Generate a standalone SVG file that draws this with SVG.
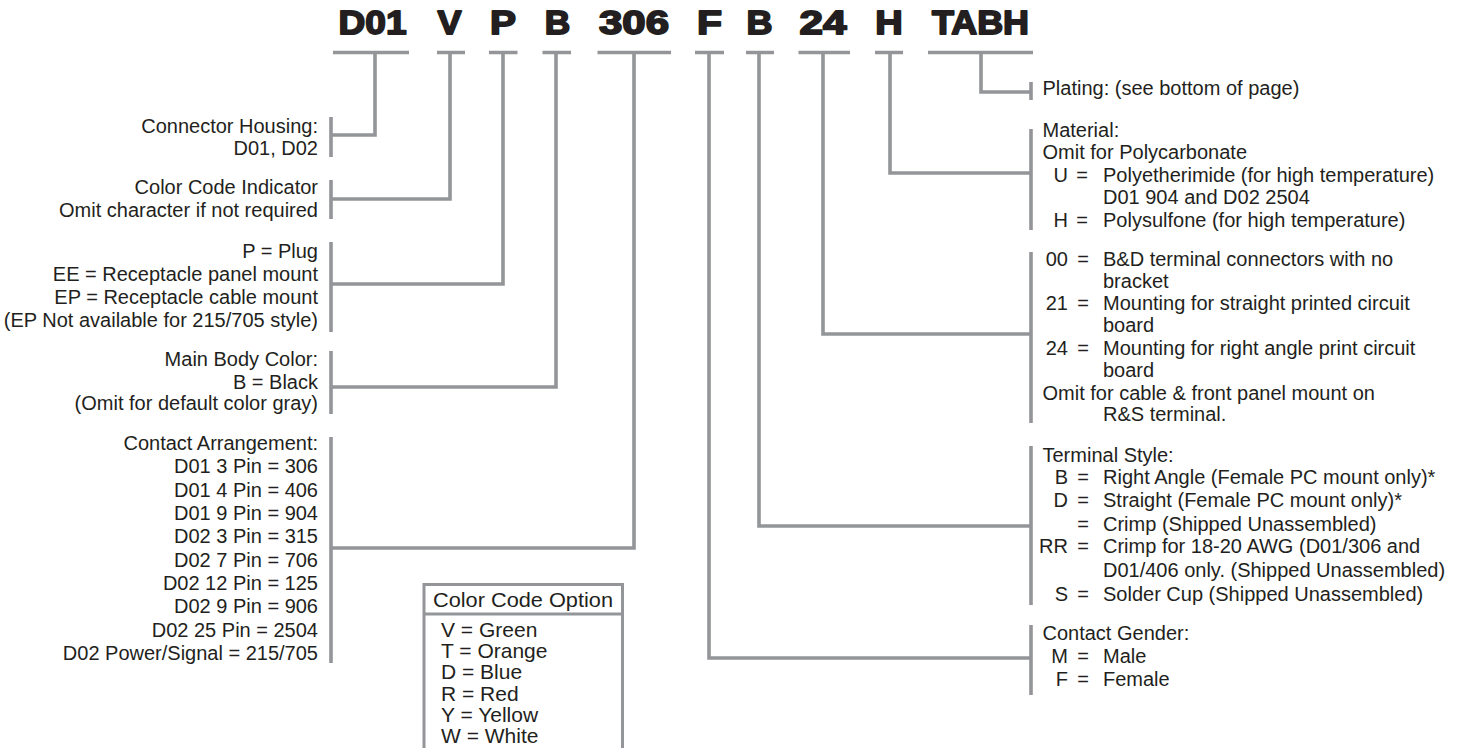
<svg xmlns="http://www.w3.org/2000/svg" width="1464" height="748" viewBox="0 0 1464 748">
<style>
text{font-family:"Liberation Sans",Arial,Helvetica,sans-serif;fill:#231f20;font-size:20px}
.code{font-size:34px;font-weight:bold;text-anchor:middle;stroke:#231f20;stroke-width:1.8;stroke-linejoin:round}
.l{text-anchor:end}
.k{text-anchor:end}
.eq{text-anchor:middle}
.ln{stroke:#939598;stroke-width:3.6;fill:none}
.br{stroke:#939598;stroke-width:3.6;fill:none}
.cc{font-size:21px}
</style>
<rect width="1464" height="748" fill="#fff"/>

<g id="code">
<text class="code" x="372.5" y="34" textLength="68" lengthAdjust="spacingAndGlyphs">D01</text>
<text class="code" x="449.5" y="34" textLength="24" lengthAdjust="spacingAndGlyphs">V</text>
<text class="code" x="503" y="34" textLength="26" lengthAdjust="spacingAndGlyphs">P</text>
<text class="code" x="557.5" y="34" textLength="25.5" lengthAdjust="spacingAndGlyphs">B</text>
<text class="code" x="634" y="34" textLength="70" lengthAdjust="spacingAndGlyphs">306</text>
<text class="code" x="709.5" y="34" textLength="25" lengthAdjust="spacingAndGlyphs">F</text>
<text class="code" x="759.5" y="34" textLength="26" lengthAdjust="spacingAndGlyphs">B</text>
<text class="code" x="823" y="34" textLength="47" lengthAdjust="spacingAndGlyphs">24</text>
<text class="code" x="889" y="34" textLength="27.5" lengthAdjust="spacingAndGlyphs">H</text>
<text class="code" x="980.5" y="34" textLength="97" lengthAdjust="spacingAndGlyphs">TABH</text>
</g>

<g id="connectors">
<path class="ln" d="M333,52.5H409M437,52.5H465M489,52.5H517.5M542.5,52.5H571M597.5,52.5H671M695,52.5H724M746,52.5H774M798.5,52.5H850M875,52.5H903M928,52.5H1033"/>
<path class="ln" d="M375,52.5V135H331"/>
<path class="ln" d="M450,52.5V199H331"/>
<path class="ln" d="M503,52.5V284H331"/>
<path class="ln" d="M556,52.5V387H331"/>
<path class="ln" d="M634,52.5V548H331"/>
<path class="ln" d="M709,52.5V658H1031"/>
<path class="ln" d="M759,52.5V526H1031"/>
<path class="ln" d="M823,52.5V334H1031"/>
<path class="ln" d="M890,52.5V173H1031"/>
<path class="ln" d="M981,52.5V92H1031"/>
</g>

<g id="housing">
<line class="br" x1="331" y1="117" x2="331" y2="157"/>
<text class="l" x="318" y="133">Connector Housing:</text>
<text class="l" x="318" y="155">D01, D02</text>
</g>

<g id="color-indicator">
<line class="br" x1="331" y1="180" x2="331" y2="219"/>
<text class="l" x="318" y="194">Color Code Indicator</text>
<text class="l" x="318" y="217">Omit character if not required</text>
</g>

<g id="type">
<line class="br" x1="331" y1="242" x2="331" y2="332"/>
<text class="l" x="318" y="258">P = Plug</text>
<text class="l" x="318" y="281">EE = Receptacle panel mount</text>
<text class="l" x="318" y="304">EP = Receptacle cable mount</text>
<text class="l" x="318" y="327">(EP Not available for 215/705 style)</text>
</g>

<g id="body-color">
<line class="br" x1="331" y1="351" x2="331" y2="414"/>
<text class="l" x="318" y="366">Main Body Color:</text>
<text class="l" x="318" y="389">B = Black</text>
<text class="l" x="318" y="410">(Omit for default color gray)</text>
</g>

<g id="arrangement">
<line class="br" x1="331" y1="437" x2="331" y2="663"/>
<text class="l" x="318" y="450">Contact Arrangement:</text>
<text class="l" x="318" y="473">D01 3 Pin = 306</text>
<text class="l" x="318" y="497">D01 4 Pin = 406</text>
<text class="l" x="318" y="520">D01 9 Pin = 904</text>
<text class="l" x="318" y="543">D02 3 Pin = 315</text>
<text class="l" x="318" y="567">D02 7 Pin = 706</text>
<text class="l" x="318" y="590">D02 12 Pin = 125</text>
<text class="l" x="318" y="613">D02 9 Pin = 906</text>
<text class="l" x="318" y="637">D02 25 Pin = 2504</text>
<text class="l" x="318" y="660">D02 Power/Signal = 215/705</text>
</g>

<g id="color-code-option">
<rect x="424" y="584.5" width="198.5" height="175" fill="none" stroke="#939598" stroke-width="3"/>
<line x1="424" y1="614" x2="622.5" y2="614" stroke="#939598" stroke-width="3"/>
<text class="cc" x="433" y="607" textLength="180" lengthAdjust="spacingAndGlyphs">Color Code Option</text>
<text class="cc" x="441" y="637">V = Green</text>
<text class="cc" x="441" y="658">T = Orange</text>
<text class="cc" x="441" y="679">D = Blue</text>
<text class="cc" x="441" y="701">R = Red</text>
<text class="cc" x="441" y="722">Y = Yellow</text>
<text class="cc" x="441" y="743">W = White</text>
</g>

<g id="plating">
<line class="br" x1="1031" y1="82" x2="1031" y2="100"/>
<text x="1042.5" y="95">Plating: (see bottom of page)</text>
</g>

<g id="material">
<line class="br" x1="1031" y1="129" x2="1031" y2="230"/>
<text x="1042.5" y="137">Material:</text>
<text x="1042.5" y="159">Omit for Polycarbonate</text>
<text class="k" x="1068" y="182">U</text><text class="eq" x="1082" y="182">=</text><text x="1103" y="182">Polyetherimide (for high temperature)</text>
<text x="1103" y="204">D01 904 and D02 2504</text>
<text class="k" x="1068" y="227">H</text><text class="eq" x="1082" y="227">=</text><text x="1103" y="227">Polysulfone (for high temperature)</text>
</g>

<g id="mounting">
<line class="br" x1="1031" y1="252" x2="1031" y2="423"/>
<text class="k" x="1068" y="266">00</text><text class="eq" x="1083" y="266">=</text><text x="1103" y="266">B&amp;D terminal connectors with no</text>
<text x="1103" y="288">bracket</text>
<text class="k" x="1068" y="310">21</text><text class="eq" x="1083" y="310">=</text><text x="1103" y="310">Mounting for straight printed circuit</text>
<text x="1103" y="332">board</text>
<text class="k" x="1068" y="355">24</text><text class="eq" x="1083" y="355">=</text><text x="1103" y="355">Mounting for right angle print circuit</text>
<text x="1103" y="377">board</text>
<text x="1042.5" y="400">Omit for cable &amp; front panel mount on</text>
<text x="1103" y="421">R&amp;S terminal.</text>
</g>

<g id="terminal">
<line class="br" x1="1031" y1="446" x2="1031" y2="605"/>
<text x="1042.5" y="462">Terminal Style:</text>
<text class="k" x="1068" y="484">B</text><text class="eq" x="1083" y="484">=</text><text x="1103" y="484">Right Angle (Female PC mount only)*</text>
<text class="k" x="1068" y="507">D</text><text class="eq" x="1083" y="507">=</text><text x="1103" y="507">Straight (Female PC mount only)*</text>
<text class="eq" x="1083" y="531">=</text><text x="1103" y="531">Crimp (Shipped Unassembled)</text>
<text class="k" x="1068" y="553">RR</text><text class="eq" x="1083" y="553">=</text><text x="1103" y="553">Crimp for 18-20 AWG (D01/306 and</text>
<text x="1103" y="577">D01/406 only. (Shipped Unassembled)</text>
<text class="k" x="1068" y="601">S</text><text class="eq" x="1083" y="601">=</text><text x="1103" y="601">Solder Cup (Shipped Unassembled)</text>
</g>

<g id="gender">
<line class="br" x1="1031" y1="625" x2="1031" y2="695"/>
<text x="1042.5" y="640">Contact Gender:</text>
<text class="k" x="1068" y="663">M</text><text class="eq" x="1083" y="663">=</text><text x="1103" y="663">Male</text>
<text class="k" x="1068" y="686">F</text><text class="eq" x="1083" y="686">=</text><text x="1103" y="686">Female</text>
</g>
</svg>
